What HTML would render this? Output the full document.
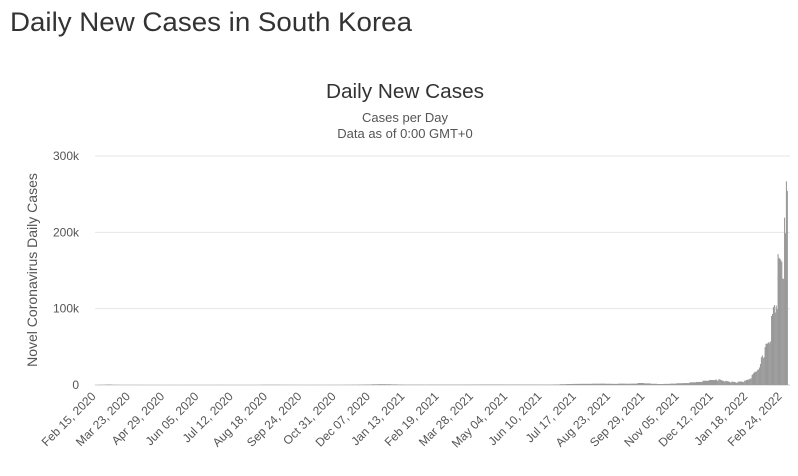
<!DOCTYPE html>
<html><head><meta charset="utf-8"><style>
html,body{margin:0;padding:0;background:#fff;width:798px;height:476px;overflow:hidden;font-family:"Liberation Sans",sans-serif;}
</style></head><body>
<svg id="chart" width="798" height="476" viewBox="0 0 798 476" xmlns="http://www.w3.org/2000/svg" font-family="Liberation Sans, sans-serif">
<text x="10" y="31" font-size="27" fill="#333" textLength="402" lengthAdjust="spacingAndGlyphs">Daily New Cases in South Korea</text>
<text x="405" y="98" font-size="20" fill="#333" text-anchor="middle" textLength="158" lengthAdjust="spacingAndGlyphs">Daily New Cases</text>
<text x="405" y="122" font-size="13" fill="#555" text-anchor="middle">Cases per Day</text>
<text x="405" y="138" font-size="13" fill="#555" text-anchor="middle">Data as of 0:00 GMT+0</text>
<text transform="translate(37,270) rotate(-90)" font-size="14" fill="#555" text-anchor="middle">Novel Coronavirus Daily Cases</text>
<g id="grid"></g><g id="bars"></g><g id="xlabels"></g>
</svg>
<script>
const yTicks=[0,100000,200000,300000];
const yTickLabels=["0","100k","200k","300k"];
const weeklyStart="2020-02-15";
const weeklyValues=[30,300,580,250,95,100,100,60,25,12,9,7,25,18,30,40,45,45,45,50,50,40,45,40,30,35,240,320,260,150,120,95,80,70,80,80,100,110,130,230,330,500,640,930,1050,990,
800,560,420,450,400,340,460,400,400,430,440,440,480,560,650,620,630,580,560,590,560,540,560,500,480,700,1050,1300,1450,1550,1550,1750,1800,1650,1500,1800,1700,1800,2600,2100,1600,1300,1500,1800,2300,2500,3500,4000,5600,6500];
const dailyStart="2021-12-18";
const dailyValues=[7300,6200,5300,7400,7400,6900,6200,5800,5400,4200,5400,5400,5000,4900,
4400,3800,3100,4400,4400,4100,4000,3500,3000,3000,4300,4500,4500,4500,4400,4200,3900,5800,5800,6600,6800,7000,7600,8500,8500,13000,14500,16000,17500,17000,18000,
20000,20300,22900,27400,36300,38600,35200,36700,49500,54100,53900,54900,56400,54600,57100,90400,93100,102000,104800,95000,104000,99500,171400,166000,165800,163500,161500,139600,
138900,219200,198800,266800,254300];
const xTickLabels=["Feb 15, 2020","Mar 23, 2020","Apr 29, 2020","Jun 05, 2020","Jul 12, 2020","Aug 18, 2020","Sep 24, 2020","Oct 31, 2020","Dec 07, 2020","Jan 13, 2021","Feb 19, 2021","Mar 28, 2021","May 04, 2021","Jun 10, 2021","Jul 17, 2021","Aug 23, 2021","Sep 29, 2021","Nov 05, 2021","Dec 12, 2021","Jan 18, 2022","Feb 24, 2022"];

const NS="http://www.w3.org/2000/svg";
const origin=Date.UTC(2020,1,15);
const PX_PER_DAY=0.927, X0=92.5, PL=95, PR=790;
function dayOf(s){const p=s.split("-");return (Date.UTC(+p[0],+p[1]-1,+p[2])-origin)/86400000;}
function parseLabel(s){const m={Jan:0,Feb:1,Mar:2,Apr:3,May:4,Jun:5,Jul:6,Aug:7,Sep:8,Oct:9,Nov:10,Dec:11};const a=s.replace(",","").split(" ");return (Date.UTC(+a[2],m[a[0]],+a[1])-origin)/86400000;}
function x(d){return X0+d*PX_PER_DAY;}
function y(v){return 385-v/300000*229;}

const grid=document.getElementById("grid");
yTicks.forEach((t,i)=>{
  const l=document.createElementNS(NS,"line");
  
  
  l.setAttribute("x1",PL);l.setAttribute("x2",PR);l.setAttribute("y1",y(t));l.setAttribute("y2",y(t));
  l.setAttribute("stroke",i===0?"#ccc":"#e6e6e6");l.setAttribute("stroke-width","1");
  grid.appendChild(l);
  const tx=document.createElementNS(NS,"text");
  
  
  tx.setAttribute("x",79);tx.setAttribute("y",y(t)+4);tx.setAttribute("text-anchor","end");
  tx.setAttribute("font-size","12");tx.setAttribute("fill","#555");tx.textContent=yTickLabels[i];
  grid.appendChild(tx);
});

const bars=document.getElementById("bars");
function addBar(d,span,v){
  const r=document.createElementNS(NS,"rect");
  
  
  const x1=x(d), w=span*PX_PER_DAY;
  r.setAttribute("x",x1);r.setAttribute("width",w+0.15);
  r.setAttribute("y",y(v));r.setAttribute("height",Math.max(0,385-y(v)));
  r.setAttribute("fill","#999");
  bars.appendChild(r);
}
const w0=dayOf(weeklyStart);
weeklyValues.forEach((v,i)=>addBar(w0+i*7,7,v));
const d0=dayOf(dailyStart);
dailyValues.forEach((v,i)=>addBar(d0+i,1,v));

const xl=document.getElementById("xlabels");
xTickLabels.forEach(s=>{
  const px=x(parseLabel(s))+4;
  const t=document.createElementNS(NS,"text");
  
  
  t.setAttribute("transform","translate("+px+",397) rotate(-45)");
  t.setAttribute("text-anchor","end");t.setAttribute("font-size","12");t.setAttribute("fill","#555");
  t.textContent=s;xl.appendChild(t);
});
</script>
</body></html>
